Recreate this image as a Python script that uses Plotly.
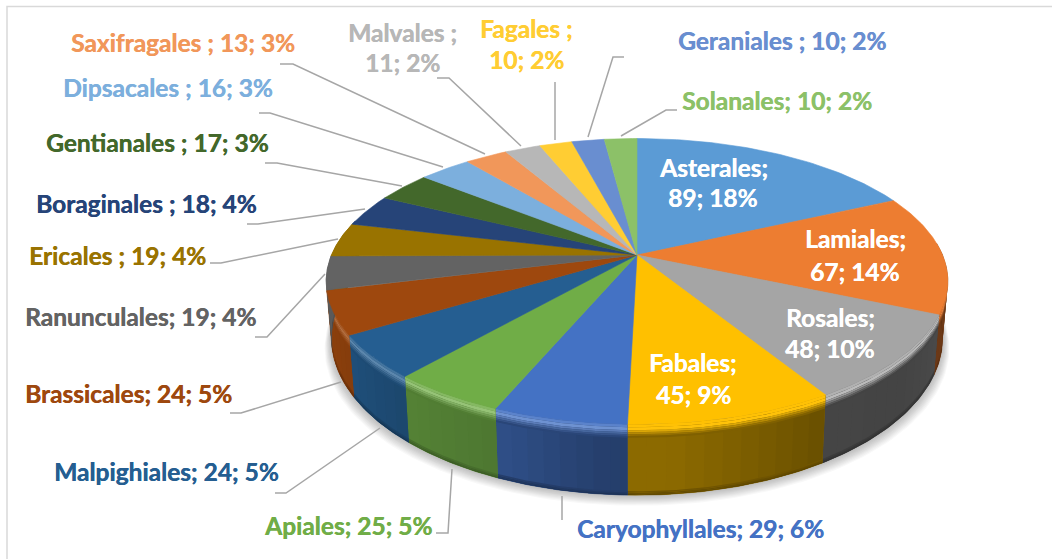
import numpy as np
import plotly.graph_objects as go

# ---------- data ----------
orders = ["Asterales", "Lamiales", "Rosales", "Fabales", "Caryophyllales", "Apiales",
          "Malpighiales", "Brassicales", "Ranunculales", "Ericales ", "Boraginales ",
          "Gentianales ", "Dipsacales ", "Saxifragales ", "Malvales ", "Fagales ",
          "Geraniales ", "Solanales"]
counts = [89, 67, 48, 45, 29, 25, 24, 24, 19, 19, 18, 17, 16, 13, 11, 10, 10, 10]
percents = [18, 14, 10, 9, 6, 5, 5, 5, 4, 4, 4, 3, 3, 3, 2, 2, 2, 2]
colors = ["#5b9bd5", "#ed7d31", "#a5a5a5", "#ffc000", "#4472c4", "#70ad47",
          "#255e91", "#9e480e", "#636363", "#997300", "#264478", "#43682b",
          "#7cafdd", "#f1975a", "#b7b7b7", "#ffcd33", "#698ed0", "#8cc168"]

# ---------- layout of labels (pixel space of the picture) ----------
label_xy = [(713, [167, 197]), (855, [238, 271]), (830, [317, 348]), (693, [362, 394]),
            (700, [528]), (348, [525]), (166, [471]), (128, [393]), (140, [316]),
            (117, [255]), (146, [203]), (157, [142]), (168, [87]), (183, [42]),
            (402, [32, 62]), (526, [28, 59]), (782, [40]), (777, [100])]
inside = 4
leaders = [None, None, None, None,
           [(562, 496), (562, 520)],
           [(436, 533), (448, 533), (452, 469)],
           [(275, 493), (286, 493), (380, 428)],
           [(230, 413), (241, 413), (341, 382)],
           [(255, 337), (267, 337), (325, 274)],
           [(210, 263), (221, 263), (338, 239)],
           [(247, 224), (258, 224), (365, 209)],
           [(265, 163), (277, 163), (402, 186)],
           [(259, 113), (270, 113), (443, 167)],
           [(280, 64), (293, 64), (485, 154)],
           [(437, 78), (449, 78), (521, 146)],
           [(555, 82), (555, 140)],
           [(624, 57), (613, 57), (588, 137)],
           [(677, 110), (666, 110), (621, 136)]]

# ---------- projection of the tilted disc ----------
CX, CY, A, B, K = 637.0, 255.0, 305.5, 138.0, 0.1847
SX, SY, CY2 = 0.983, 1.1, 309.0


def top_rim(th):
    u, v = np.sin(th), np.cos(th)
    w = 1 + K * v
    return CX + A * u / w, CY - B * v / w


def bottom_rim(th):
    u, v = np.sin(th), np.cos(th)
    w = 1 + K * v
    return CX + SX * A * u / w, CY2 - SY * B * v / w


def wall_point(th, d):
    """Point d pixels down the wall measured at the wall's own height."""
    x0, y0 = top_rim(th)
    x1, y1 = bottom_rim(th)
    h = np.maximum(y1 - y0, 1)
    t = d / h
    return x0 + (x1 - x0) * t, y0 + (y1 - y0) * t


def rgb(hexc):
    return np.array([int(hexc[i:i + 2], 16) for i in (1, 3, 5)], float)


def css(c):
    c = np.clip(c, 0, 255)
    return "rgb(%d,%d,%d)" % tuple(np.round(c))


def wall_factor(deg):
    return np.interp(deg, [90, 130, 150, 175, 185, 200, 220, 240, 260, 285],
                     [.50, .41, .42, .55, .55, .68, .75, .85, .90, .95])


def glow(deg):
    return np.interp(deg, [90, 130, 145, 160, 190, 220, 250, 275],
                     [.03, .25, .2, 0, .22, .28, .20, .10])


fig = go.Figure()


def poly(xs, ys, color, opacity=1.0, edge=0.6):
    fig.add_trace(go.Scatter(x=xs, y=ys, mode="lines", fill="toself", fillcolor=color,
                             line=dict(color=color, width=edge),
                             opacity=opacity, hoverinfo="skip", showlegend=False))


total = sum(counts)
edges = np.cumsum([0] + counts) / total * 2 * np.pi

# soft shadow under the pie
ring = np.linspace(0, 2 * np.pi, 241)
bx, by = bottom_rim(ring)
for grow in np.linspace(14, 1, 10):
    sx = CX + (bx - CX) * (1 + grow * 0.0016)
    sy = by + grow * 0.75
    poly(sx, sy, "rgb(0,0,0)", opacity=0.028, edge=0)

# walls, only the half that faces the viewer can be seen
BEVEL = 13.0
LO, HI = np.radians(85), np.radians(285)
for i in range(len(counts)):
    a0, a1 = max(edges[i], LO), min(edges[i + 1], HI)
    if a1 <= a0:
        continue
    face = rgb(colors[i])
    mid = np.degrees((a0 + a1) / 2)
    side = face * wall_factor(mid)
    th = np.linspace(a0, a1, 40)
    # base of the whole slice wall, so strips never show a gap
    tx, ty = top_rim(th)
    ux, uy = bottom_rim(th)
    poly(np.r_[tx, ux[::-1]], np.r_[ty, uy[::-1]], css(side))
    # graded strips, each one running under the next
    n = max(2, int(np.degrees(a1 - a0) / 3) + 1)
    steps = np.linspace(a0, a1, n + 1)
    for j in range(n):
        stop = steps[min(j + 2, n)]
        ts = np.linspace(steps[j], stop, 6)
        tx, ty = wall_point(ts, BEVEL)
        ux, uy = bottom_rim(ts)
        f = wall_factor(np.degrees((steps[j] + steps[j + 1]) / 2))
        poly(np.r_[tx, ux[::-1]], np.r_[ty, uy[::-1]], css(face * f), edge=0)
    # darker foot of the wall
    for d0, d1, m in [(4, 2.5, .88), (2.5, 1, .8), (1, 0, .7)]:
        x0, y0 = bottom_rim(th)
        poly(np.r_[x0, x0[::-1]], np.r_[y0 - d0, (y0 - d1)[::-1]], css(side * m), edge=0)
    # rounded bevel between top face and wall
    h = glow(mid)
    lit = face + (255 - face) * h
    half = face + (255 - face) * h * 0.55
    ramp = [(0, 3, half), (3, 6, lit), (6, 8, lit * .72 + side * .28),
            (8, 10, lit * .42 + side * .58), (10, 11.7, lit * .18 + side * .82),
            (11.7, BEVEL + .5, side)]
    for d0, d1, c in ramp:
        x0, y0 = wall_point(th, d0)
        x1, y1 = wall_point(th, d1)
        poly(np.r_[x0, x1[::-1]], np.r_[y0, y1[::-1]], css(c), edge=0)

# top face of each slice
for i in range(len(counts)):
    th = np.linspace(edges[i], edges[i + 1], 60)
    x, y = top_rim(th)
    poly(np.r_[CX, x, CX], np.r_[CY, y, CY], colors[i])

# leader lines
for path in leaders:
    if path:
        fig.add_trace(go.Scatter(x=[p[0] for p in path], y=[p[1] for p in path], mode="lines",
                                 line=dict(color="#a6a6a6", width=1.5),
                                 hoverinfo="skip", showlegend=False))

# frame of the chart area
fig.add_trace(go.Scatter(x=[7, 7, 1052], y=[559, 6.5, 6.5], mode="lines",
                         line=dict(color="#d9d9d9", width=1.5),
                         hoverinfo="skip", showlegend=False))

# data labels
for i, (name, n, p) in enumerate(zip(orders, counts, percents)):
    x, ys = label_xy[i]
    if len(ys) == 2:
        lines = [f"{name};", f"{n}; {p}%"]
    else:
        lines = [f"{name}; {n}; {p}%"]
    color = "#ffffff" if i < inside else colors[i]
    for text, y in zip(lines, ys):
        fig.add_annotation(x=x, y=y, text=text, showarrow=False, xanchor="center", yanchor="middle",
                           font=dict(family="Lato", size=24.5, weight="bold", color=color,
                                     shadow=f"0.4px 0 0 {color}"))

fig.update_layout(width=1052, height=559, margin=dict(l=0, r=0, t=0, b=0),
                  paper_bgcolor="white", plot_bgcolor="white", showlegend=False,
                  xaxis=dict(range=[0, 1052], visible=False, fixedrange=True),
                  yaxis=dict(range=[559, 0], visible=False, fixedrange=True))
fig.write_html("out.html", config={"displayModeBar": False},
               post_script="document.body.style.margin='0';document.body.style.overflow='hidden';")
